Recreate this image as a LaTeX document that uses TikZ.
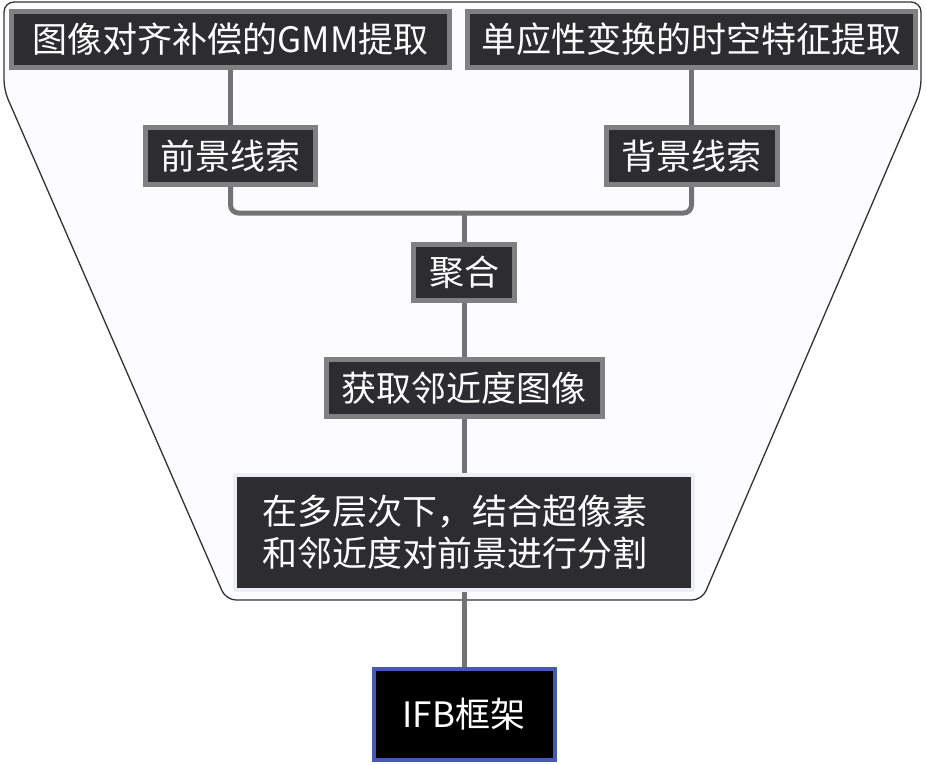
\documentclass[tikz,border=0pt]{standalone}
\usepackage{fontspec}
\setmainfont{Noto Sans CJK SC}
\usepackage{xcolor}
\usepackage{tikz}
\usetikzlibrary{positioning}
\usetikzlibrary{calc}

\begin{document}
\begin{tikzpicture}
    [%%%%%%%%%%%%%%%%%%%%%%%%%%%%%%
        x=1pt,y=-1pt,
        box/.style={rectangle,draw=boxline,line width=5pt,fill=boxfill,text=white,inner sep=0pt,
            font=\fontsize{35}{42}\selectfont},
        link/.style={draw=linkgray,line width=5pt}
    ]%%%%%%%%%%%%%%%%%%%%%%%%%%%%%%
\definecolor{boxfill}{RGB}{45,45,48}
\definecolor{boxline}{RGB}{128,128,128}
\definecolor{linkgray}{RGB}{115,115,115}
\definecolor{paleline}{RGB}{236,237,245}
\definecolor{ifbblue}{RGB}{70,90,180}
\definecolor{funnelfill}{RGB}{252,252,255}
\definecolor{funnelline}{RGB}{50,50,50}

\useasboundingbox (0,0) rectangle (926,764);

\draw[draw=funnelline,line width=1.3pt,fill=funnelfill,rounded corners=10pt]
    (4,2) -- (921,2) -- (921,90) -- (702,600) -- (226,600) -- (4,90) -- cycle;

\node[box,minimum width=438pt,minimum height=56pt] (gmm) at (230.5,39.5) {图像对齐补偿的GMM提取};
\node[box,minimum width=448pt,minimum height=56pt] (homo) at (691.5,39.5) {单应性变换的时空特征提取};

\node[box,minimum width=170pt,minimum height=57pt] (fg) at (230.5,156) {前景线索};
\node[box,minimum width=171pt,minimum height=57pt] (bg) at (691.5,156) {背景线索};

\node[box,minimum width=101pt,minimum height=56pt] (agg) at (464,272.5) {聚合};
\node[box,minimum width=276pt,minimum height=57pt] (prox) at (464,388) {获取邻近度图像};

\node[box,draw=paleline,line width=4pt,minimum width=458pt,minimum height=115pt,
    text width=404pt,align=left] (seg) at (464,532.5)
    {在多层次下，结合超像素\\和邻近度对前景进行分割};

\node[box,draw=ifbblue,line width=4pt,fill=black,minimum width=181pt,minimum height=91pt]
    (ifb) at (464,714.5) {IFB框架};

\coordinate (join) at (464,213);

\draw[link] (gmm.south) -- (fg.north);
\draw[link] (homo.south) -- (bg.north);
\draw[link,rounded corners=8pt] (fg.south) |- (join) -| (bg.south);
\draw[link] (join) -- (agg.north);
\draw[link] (agg.south) -- (prox.north);
\draw[link] (prox.south) -- (seg.north);
\draw[link] (seg.south) -- (ifb.north);

\end{tikzpicture}
\end{document}
